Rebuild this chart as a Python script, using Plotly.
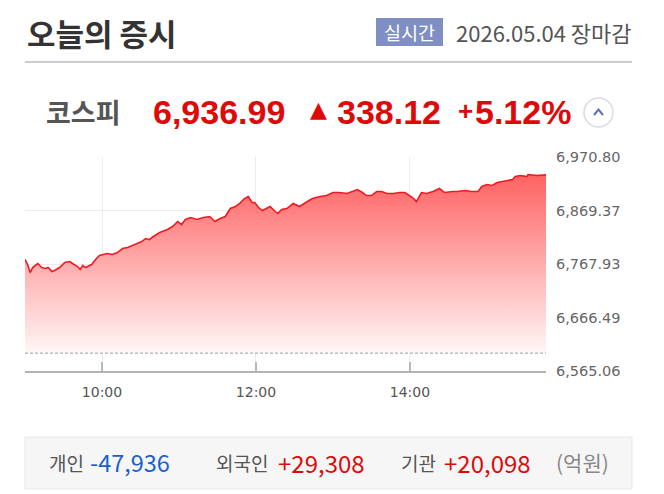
import plotly.graph_objects as go
import pandas as pd

# ---------------- data ----------------
trade_date = "2026-05-04"
times = ["09:00", "09:02", "09:04", "09:06", "09:08", "09:10", "09:13", "09:16", "09:18", "09:21",
         "09:23", "09:27", "09:31", "09:35", "09:37", "09:41", "09:43", "09:45", "09:47", "09:49",
         "09:52", "09:55", "09:58", "10:04", "10:08", "10:12", "10:16", "10:20", "10:26", "10:31",
         "10:34", "10:37", "10:40", "10:45", "10:51", "10:55", "10:59", "11:02", "11:05", "11:09",
         "11:14", "11:19", "11:24", "11:28", "11:32", "11:36", "11:40", "11:44", "11:48", "11:51",
         "11:54", "11:57", "11:59", "12:02", "12:05", "12:09", "12:11", "12:15", "12:17", "12:20",
         "12:24", "12:29", "12:34", "12:40", "12:44", "12:50", "12:55", "13:00", "13:05", "13:11",
         "13:15", "13:19", "13:23", "13:26", "13:30", "13:34", "13:38", "13:42", "13:47", "13:52",
         "13:56", "14:00", "14:02", "14:05", "14:09", "14:13", "14:18", "14:23", "14:27", "14:33",
         "14:37", "14:43", "14:48", "14:53", "14:56", "15:00", "15:04", "15:08", "15:12", "15:16",
         "15:20", "15:22", "15:26", "15:31", "15:32", "15:39", "15:46"]
values = [6776.5, 6767.0, 6751.8, 6761.3, 6765.1, 6768.9, 6761.3, 6759.4, 6761.3, 6753.7,
          6755.6, 6761.3, 6770.8, 6772.7, 6768.9, 6763.2, 6757.5, 6765.1, 6761.3, 6763.2,
          6767.0, 6776.5, 6784.1, 6787.8, 6786.0, 6789.7, 6797.3, 6799.2, 6804.9, 6810.6,
          6816.3, 6814.4, 6820.1, 6827.7, 6833.4, 6839.0, 6848.5, 6842.8, 6852.3, 6856.1,
          6852.3, 6856.1, 6858.0, 6848.5, 6854.2, 6858.0, 6873.2, 6877.0, 6884.5, 6892.1,
          6895.9, 6884.5, 6884.5, 6875.1, 6869.4, 6875.1, 6877.0, 6867.5, 6863.7, 6871.3,
          6873.2, 6882.6, 6877.0, 6886.4, 6892.1, 6895.9, 6897.8, 6903.5, 6903.5, 6901.6,
          6905.4, 6909.2, 6903.5, 6897.8, 6897.8, 6905.4, 6905.4, 6901.6, 6901.6, 6903.5,
          6903.5, 6897.8, 6894.0, 6886.4, 6903.5, 6901.6, 6905.4, 6911.1, 6903.5, 6905.4,
          6905.4, 6907.3, 6905.4, 6905.4, 6914.9, 6918.7, 6916.8, 6922.5, 6924.4, 6926.3,
          6928.2, 6933.8, 6935.7, 6933.8, 6937.6, 6935.7, 6936.99]
prev_close = 6598.87
y_ticks = [6565.06, 6666.49, 6767.93, 6869.37, 6970.80]
y_tick_labels = ["6,565.06", "6,666.49", "6,767.93", "6,869.37", "6,970.80"]
x_ticks = ["10:00", "12:00", "14:00"]

index_name = "코스피"
index_value = "6,936.99"
index_change = "338.12"
index_pct = "5.12%"
investor_names = ["개인", "외국인", "기관"]
investor_values = ["-47,936", "+29,308", "+20,098"]

# ---------------- figure ----------------
W, H = 664, 494
OFF = 8  # page body margin offset
L, R, T, B = 25, 546, 157, 371  # plot area in page pixels

x = pd.to_datetime([f"{trade_date} {t}" for t in times])
xt = pd.to_datetime([f"{trade_date} {t}" for t in x_ticks])

RED = "#dd0a0a"
KR = "Noto Sans CJK KR"

fig = go.Figure()
fig.add_trace(go.Scatter(
    x=[x[0], x[-1]], y=[prev_close, prev_close], mode="lines",
    line=dict(color="#a0a0a0", width=1, dash="3px,2px"), hoverinfo="skip"))
fig.add_trace(go.Scatter(
    x=x, y=values, mode="lines", fill="tonexty",
    line=dict(color="#ee1a22", width=1.6),
    fillgradient=dict(type="vertical",
                      colorscale=[[0, "rgb(255,246,246)"], [1, "rgb(255,95,95)"]],
                      start=prev_close, stop=6945)))

fig.update_layout(
    width=W, height=H,
    margin=dict(l=L - OFF, r=W - (R - OFF), t=T - OFF, b=H - (B - OFF)),
    paper_bgcolor="white", plot_bgcolor="white",
    showlegend=False,
    xaxis=dict(type="date", range=[x[0], x[-1]],
               tickvals=xt, ticktext=x_ticks,
               showgrid=True, gridcolor="#ebebeb", gridwidth=1,
               ticks="inside", ticklen=9, tickcolor="#b8b8b8", tickwidth=1.5,
               showline=True, linecolor="#b3b3b3", linewidth=1.5,
               zeroline=False, ticklabelstandoff=7,
               tickfont=dict(family="DejaVu Sans", size=14, color="#555")),
    yaxis=dict(side="right", range=[6565.0, 6970.9],
               tickvals=y_ticks, ticktext=y_tick_labels,
               showgrid=True, gridcolor="#ebebeb", gridwidth=1,
               zeroline=False, showline=False, ticks="",
               ticklabelstandoff=9,
               tickfont=dict(family="DejaVu Sans", size=14.5, color="#666")),
)


def px(v):
    return (v - L) / (R - L)


def py(v):
    return (B - v) / (B - T)


def text(xp, yp, s, size, color, family=KR, weight="normal", anchor="left"):
    fig.add_annotation(x=px(xp), y=py(yp), xref="paper", yref="paper", text=s,
                       showarrow=False, xanchor=anchor, yanchor="middle",
                       font=dict(family=family, size=size, color=color, weight=weight))


def rect(x0, y0, x1, y1, fill, line="rgba(0,0,0,0)", lw=0):
    fig.add_shape(type="rect", xref="paper", yref="paper",
                  x0=px(x0), x1=px(x1), y0=py(y0), y1=py(y1),
                  fillcolor=fill, line=dict(color=line, width=lw), layer="below")


# header
text(25, 32, "오늘의 증시", 31, "#333", weight="bold")
rect(376, 18, 443, 46, "#7f8fc4")
text(409.5, 32, "실시간", 18.5, "white", anchor="center")
text(454, 32, "2026.05.04 장마감", 22, "#555")
fig.add_shape(type="line", xref="paper", yref="paper", x0=px(25), x1=px(632),
              y0=py(62), y1=py(62), line=dict(color="#cccccc", width=2))

# index line
text(44, 112, index_name, 27, "#555", weight="bold")
text(151, 112, index_value, 34, RED, family="Liberation Sans", weight="bold")
text(308, 109, "▲", 22, RED, family="DejaVu Sans")
text(335, 112, index_change, 34, RED, family="Liberation Sans", weight="bold")
text(456, 111, "+", 26, RED, family="Liberation Sans", weight="bold")
text(473, 112, index_pct, 34, RED, family="Liberation Sans", weight="bold")
fig.add_shape(type="circle", xref="paper", yref="paper",
              x0=px(584), x1=px(613), y0=py(127), y1=py(98),
              fillcolor="white", line=dict(color="#d9dbe3", width=1.5))
fig.add_shape(type="path", xref="paper", yref="paper",
              path=f"M {px(594)},{py(115)} L {px(598.5)},{py(109.5)} L {px(603)},{py(115)}",
              line=dict(color="#5a6fb8", width=2))

# investor box
rect(25, 437, 632, 489, "#f6f6f6", "#e8e8e8", 1)
text(47, 462, investor_names[0], 19, "#555")
text(88, 462, investor_values[0], 23.5, "#1a5fcf")
text(214, 462, investor_names[1], 19, "#555")
text(276, 462, investor_values[1], 24, RED)
text(399, 462, investor_names[2], 19, "#555")
text(442, 462, investor_values[2], 24, RED)
text(554, 462, "(억원)", 21, "#888")

fig.write_html("out.html")
